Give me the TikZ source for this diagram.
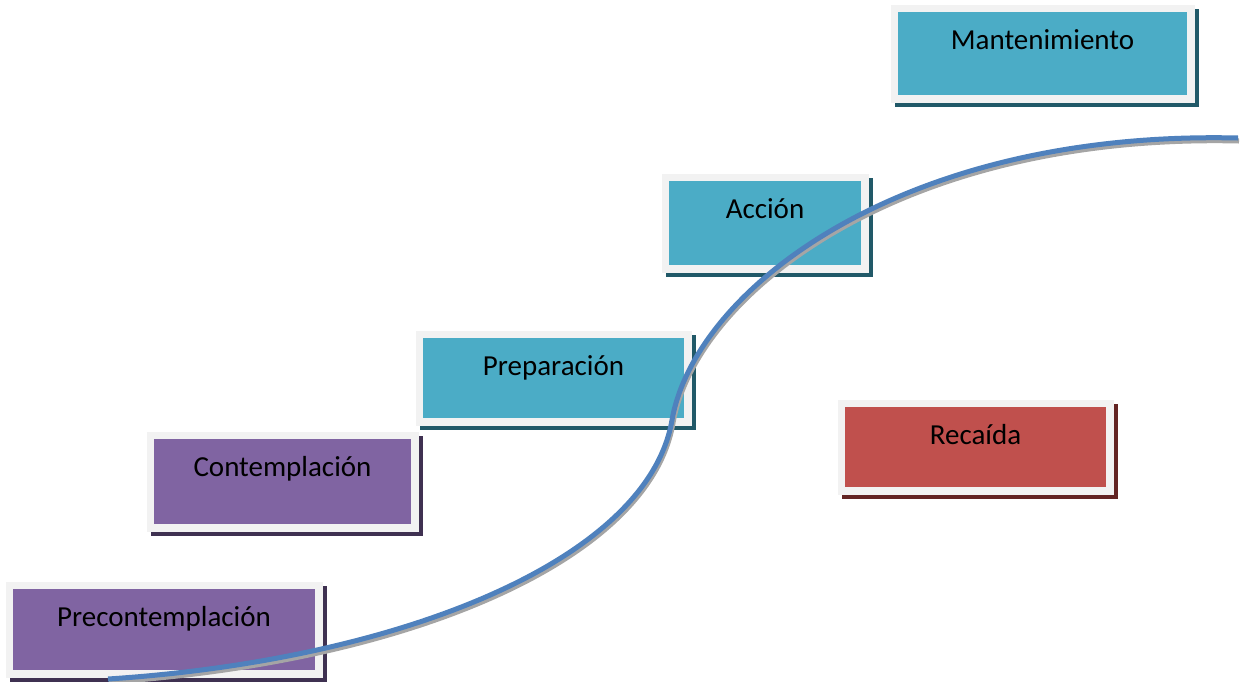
\documentclass[tikz,border=0pt]{standalone}
\usepackage{fontspec}
\setmainfont{Carlito}
\definecolor{tealc}{HTML}{4BACC6}
\definecolor{tealsh}{HTML}{215968}
\definecolor{purplec}{HTML}{8064A2}
\definecolor{purplesh}{HTML}{3F3151}
\definecolor{redc}{HTML}{C0504D}
\definecolor{redsh}{HTML}{632423}
\definecolor{bordergray}{HTML}{F2F2F2}
\definecolor{curveblue}{HTML}{4F81BD}
\definecolor{curveshadow}{HTML}{A5A5A5}
\begin{document}
\begin{tikzpicture}[x=1pt,y=-1pt,
  stage/.style 2 args={anchor=north west, inner sep=0pt, outer sep=0pt,
    align=center, text height=37pt, text=black,
    font=\fontsize{29}{34}\selectfont, fill=#1,
    preaction={draw=#2, fill=#2, line width=15pt,
      transform canvas={shift={(4pt,-4pt)}}},
    preaction={draw=bordergray, line width=15pt}},
  scurve/.style={draw=curveblue, line width=5pt,
    preaction={draw=curveshadow, line width=5pt,
      transform canvas={shift={(1pt,-3pt)}}}}
]
\useasboundingbox (0,0) rectangle (1241,681);
\node[stage={tealc}{tealsh}, text width=289pt, text depth=46pt] (mant) at (898,12) {Mantenimiento};
\node[stage={tealc}{tealsh}, text width=192pt, text depth=47pt] (accion) at (669,181) {Acción};
\node[stage={tealc}{tealsh}, text width=261pt, text depth=43pt] (prep) at (423,338) {Preparación};
\node[stage={purplec}{purplesh}, text width=257pt, text depth=48pt] (contem) at (154,439) {Contemplación};
\node[stage={purplec}{purplesh}, text width=302pt, text depth=44pt] (precon) at (13,589) {Precontemplación};
\node[stage={redc}{redsh}, text width=261pt, text depth=43pt] (recaida) at (845,407) {Recaída};
\coordinate (cstart) at (108,679);
\coordinate (cmid) at (672,420);
\coordinate (cend) at (1238,138);
\draw[scurve] (cstart) .. controls (400,660) and (648,560) .. (cmid)
  .. controls (695,290) and (900,130) .. (cend);
\end{tikzpicture}
\end{document}
